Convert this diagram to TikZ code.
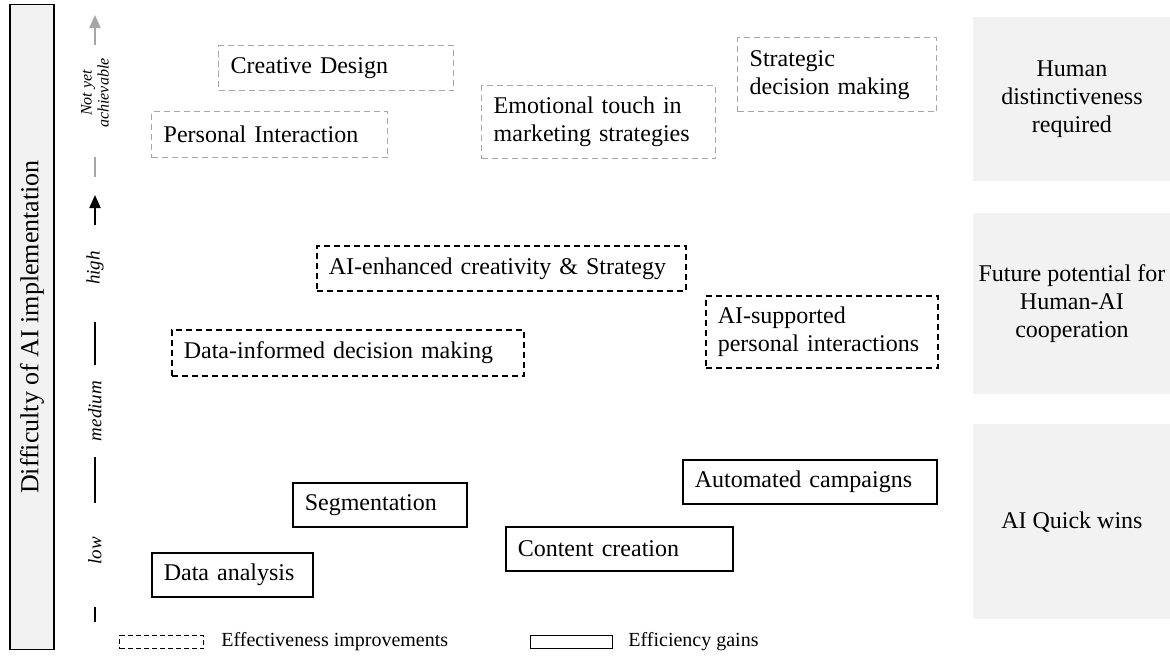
\documentclass[tikz,border=0pt]{standalone}
\usepackage{fontspec}
\setmainfont{Liberation Serif}
\usetikzlibrary{arrows.meta}
\definecolor{panelgray}{RGB}{242,242,242}
\definecolor{futgray}{RGB}{166,166,166}
\tikzset{
  aimap/.style={x=0.5pt,y=-0.5pt,font=\fontsize{12}{14}\selectfont},
  usecase/.style={draw,anchor=north west,inner xsep=6pt,inner ysep=0pt,align=left,line width=0.8pt},
  effect/.style={usecase,dashed,dash pattern=on 3pt off 2pt},
  future/.style={effect,draw=futgray,line width=0.7pt},
  gain/.style={usecase},
  panel/.style={fill=panelgray,anchor=north west,align=center,inner sep=0pt,minimum width=98.5pt},
  level/.style={font=\fontsize{9.5}{10}\selectfont\itshape,rotate=90},
  axisline/.style={line width=1pt}
}

\begin{document}
\begin{tikzpicture}[aimap]
    \useasboundingbox (0,0) rectangle (1170,655);
    % vertical title and axis
    \node[draw,fill=panelgray,line width=0.8pt,rotate=90,minimum width=322.5pt,minimum height=22pt,
          font=\fontsize{13}{15}\selectfont] (difficulty) at (32,327) {Difficulty of AI implementation};
    \draw[axisline,futgray,-{Triangle[width=5.5pt,length=6.5pt]}] (95,45) -- (95,15);
    \node[level,font=\fontsize{8}{8.5}\selectfont\itshape,align=center] (notyet) at (95,93) {Not yet\\achievable};
    \draw[axisline,futgray] (95,157) -- (95,177);
    \draw[axisline,-{Triangle[width=5.5pt,length=6.5pt]}] (95,225) -- (95,195);
    \node[level] (high) at (95,268) {high};
    \draw[axisline] (95,322) -- (95,365);
    \node[level] (medium) at (95,411) {medium};
    \draw[axisline] (95,457) -- (95,503);
    \node[level] (low) at (95,551) {low};
    \draw[axisline] (95,607) -- (95,622);
    % human distinctiveness
    \node[future,text width=105.5pt,minimum height=22.5pt] (creative) at (218,45) {Creative Design};
    \node[future,text width=106pt,minimum height=23pt] (personal) at (151,111) {Personal Interaction};
    \node[future,text width=105pt,minimum height=36.5pt] (emotional) at (481,85) {Emotional touch in\\marketing strategies};
    \node[future,text width=87.5pt,minimum height=37pt] (strategic) at (737,37) {Strategic\\decision making};
    % human-AI cooperation
    \node[effect,text width=172.5pt,minimum height=22.5pt] (aicreative) at (316,245) {AI-enhanced creativity \& Strategy};
    \node[effect,text width=164pt,minimum height=23pt] (datainformed) at (171,329) {Data-informed decision making};
    \node[effect,text width=104pt,minimum height=36pt] (aipersonal) at (705,295) {AI-supported\\personal interactions};
    % quick wins
    \node[gain,text width=75pt,minimum height=22pt] (segment) at (292,482) {Segmentation};
    \node[gain,text width=115pt,minimum height=22pt] (campaigns) at (682,459) {Automated campaigns};
    \node[gain,text width=101.5pt,minimum height=22pt] (content) at (505,526) {Content creation};
    \node[gain,text width=68.5pt,minimum height=22pt] (analysis) at (151,552) {Data analysis};
    % right hand categories
    \node[panel,minimum height=82pt] (human) at (973,17) {Human\\distinctiveness\\required};
    \node[panel,minimum height=90.5pt] (future) at (973,213) {Future potential for\\Human-AI\\cooperation};
    \node[panel,minimum height=97.5pt] (quick) at (973,424) {AI Quick wins};
    % legend
    \node[draw,dashed,dash pattern=on 2.5pt off 1.5pt,line width=0.6pt,anchor=north west,minimum width=42pt,minimum height=6.5pt,inner sep=0pt] (legeffect) at (119,635) {};
    \node[anchor=west,font=\fontsize{10}{12}\selectfont,inner sep=0pt] (legeffecttxt) at (221,641.5) {Effectiveness improvements};
    \node[draw,line width=0.6pt,anchor=north west,minimum width=41pt,minimum height=6.5pt,inner sep=0pt] (leggain) at (530,635) {};
    \node[anchor=west,font=\fontsize{10}{12}\selectfont,inner sep=0pt] (leggaintxt) at (628,641.5) {Efficiency gains};
\end{tikzpicture}
\end{document}
